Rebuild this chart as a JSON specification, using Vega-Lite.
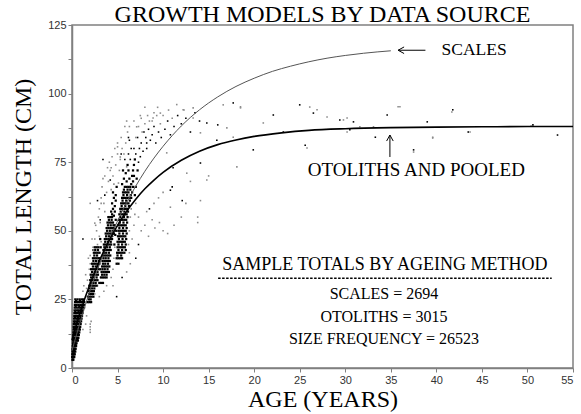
{
"$schema":"https://vega.github.io/schema/vega-lite/v6.json",
"width":501,"height":343,"autosize":"none",
"padding":{"left":72,"top":25,"right":8,"bottom":46},
"background":"white",
"config":{"view":{"stroke":"#808080","strokeWidth":1.5},
"axis":{"grid":false,"domainColor":"#808080","domainWidth":1.5,"tickColor":"#808080","tickSize":4,"labelFont":"Liberation Sans","labelFontSize":11,"labelColor":"#333333","titleFont":"Liberation Serif","titleFontSize":24,"titleFontWeight":"normal","titleColor":"black"}},
"title":{"text":"GROWTH MODELS BY DATA SOURCE","font":"Liberation Serif","fontSize":24,"fontWeight":"normal","color":"black","offset":2,"dy":10,"anchor":"middle","frame":"group"},
"datasets":{
"band":[
{"a":0.05,"l":3},{"a":0.1,"l":3},{"a":0.15,"l":3},
{"a":0.02,"l":4},{"a":0.08,"l":4},{"a":0.14,"l":4},{"a":0.2,"l":4},{"a":0.25,"l":4},
{"a":0.03,"l":5},{"a":0.1,"l":5},{"a":0.17,"l":5},{"a":0.24,"l":5},{"a":0.3,"l":5},
{"a":0.05,"l":6},{"a":0.12,"l":6},{"a":0.2,"l":6},{"a":0.28,"l":6},{"a":0.36,"l":6},
{"a":0.09,"l":6.5},{"a":0.24,"l":6.5},
{"a":0.06,"l":7},{"a":0.14,"l":7},{"a":0.22,"l":7},{"a":0.3,"l":7},{"a":0.4,"l":7},
{"a":0.08,"l":8},{"a":0.16,"l":8},{"a":0.25,"l":8},{"a":0.34,"l":8},{"a":0.45,"l":8},
{"a":0.12,"l":8.5},{"a":0.3,"l":8.5},{"a":0.4,"l":8.5},
{"a":0.1,"l":9},{"a":0.19,"l":9},{"a":0.28,"l":9},{"a":0.38,"l":9},{"a":0.5,"l":9},
{"a":0.1,"l":10},{"a":0.2,"l":10},{"a":0.3,"l":10},{"a":0.42,"l":10},{"a":0.55,"l":10},{"a":0.65,"l":10},
{"a":0.15,"l":10.5},{"a":0.36,"l":10.5},{"a":0.6,"l":10.5},
{"a":0.12,"l":11},{"a":0.22,"l":11},{"a":0.33,"l":11},{"a":0.45,"l":11},{"a":0.58,"l":11},{"a":0.7,"l":11},
{"a":0.14,"l":12},{"a":0.25,"l":12},{"a":0.37,"l":12},{"a":0.5,"l":12},{"a":0.62,"l":12},{"a":0.75,"l":12},
{"a":0.2,"l":12.5},{"a":0.44,"l":12.5},{"a":0.68,"l":12.5},
{"a":0.15,"l":13},{"a":0.27,"l":13},{"a":0.4,"l":13},{"a":0.53,"l":13},{"a":0.67,"l":13},{"a":0.8,"l":13},
{"a":0.17,"l":14},{"a":0.3,"l":14},{"a":0.43,"l":14},{"a":0.57,"l":14},{"a":0.71,"l":14},{"a":0.86,"l":14},
{"a":0.24,"l":14.5},{"a":0.5,"l":14.5},{"a":0.8,"l":14.5},
{"a":0.18,"l":15},{"a":0.32,"l":15},{"a":0.46,"l":15},{"a":0.6,"l":15},{"a":0.75,"l":15},{"a":0.9,"l":15},
{"a":0.2,"l":16},{"a":0.35,"l":16},{"a":0.5,"l":16},{"a":0.65,"l":16},{"a":0.8,"l":16},{"a":0.95,"l":16},
{"a":0.28,"l":16.5},{"a":0.58,"l":16.5},{"a":0.88,"l":16.5},
{"a":0.22,"l":17},{"a":0.37,"l":17},{"a":0.53,"l":17},{"a":0.69,"l":17},{"a":0.85,"l":17},{"a":1.0,"l":17},
{"a":0.23,"l":18},{"a":0.4,"l":18},{"a":0.56,"l":18},{"a":0.73,"l":18},{"a":0.9,"l":18},{"a":1.05,"l":18},
{"a":0.32,"l":18.5},{"a":0.64,"l":18.5},{"a":0.98,"l":18.5},
{"a":0.25,"l":19},{"a":0.42,"l":19},{"a":0.6,"l":19},{"a":0.77,"l":19},{"a":0.95,"l":19},{"a":1.1,"l":19},
{"a":0.26,"l":20},{"a":0.45,"l":20},{"a":0.63,"l":20},{"a":0.81,"l":20},{"a":1.0,"l":20},{"a":1.15,"l":20},
{"a":0.36,"l":20.5},{"a":0.72,"l":20.5},{"a":1.08,"l":20.5},
{"a":0.28,"l":21},{"a":0.47,"l":21},{"a":0.66,"l":21},{"a":0.85,"l":21},{"a":1.04,"l":21},{"a":1.2,"l":21},
{"a":0.3,"l":22},{"a":0.5,"l":22},{"a":0.7,"l":22},{"a":0.9,"l":22},{"a":1.08,"l":22},{"a":1.25,"l":22},
{"a":0.4,"l":22.5},{"a":0.8,"l":22.5},{"a":1.16,"l":22.5},
{"a":0.32,"l":23},{"a":0.52,"l":23},{"a":0.73,"l":23},{"a":0.94,"l":23},{"a":1.12,"l":23},{"a":1.3,"l":23},
{"a":0.34,"l":24},{"a":0.55,"l":24},{"a":0.76,"l":24},{"a":0.98,"l":24},{"a":1.17,"l":24},{"a":1.35,"l":24},
{"a":0.45,"l":24.5},{"a":0.88,"l":24.5},{"a":1.25,"l":24.5},
{"a":0.36,"l":25},{"a":0.6,"l":25},{"a":0.85,"l":25},{"a":1.1,"l":25},{"a":1.3,"l":25},
{"a":1.7,"l":24},{"a":1.9,"l":24},{"a":2.1,"l":24},
{"a":1.85,"l":25},{"a":2.05,"l":25},
{"a":1.75,"l":26},{"a":1.95,"l":26},{"a":2.15,"l":26},{"a":2.35,"l":26},
{"a":1.9,"l":27},{"a":2.1,"l":27},{"a":2.3,"l":27},
{"a":1.8,"l":28},{"a":2.0,"l":28},{"a":2.2,"l":28},{"a":2.4,"l":28},
{"a":1.95,"l":29},{"a":2.2,"l":29},{"a":2.45,"l":29},
{"a":1.9,"l":30},{"a":2.1,"l":30},{"a":2.3,"l":30},{"a":2.5,"l":30},{"a":2.7,"l":30},
{"a":2.05,"l":31},{"a":2.35,"l":31},{"a":2.6,"l":31},
{"a":2.0,"l":32},{"a":2.2,"l":32},{"a":2.4,"l":32},{"a":2.6,"l":32},{"a":2.8,"l":32},
{"a":2.1,"l":33},{"a":2.4,"l":33},{"a":2.7,"l":33},
{"a":2.05,"l":34},{"a":2.25,"l":34},{"a":2.45,"l":34},{"a":2.65,"l":34},{"a":2.85,"l":34},
{"a":2.2,"l":35},{"a":2.5,"l":35},{"a":2.8,"l":35},
{"a":2.1,"l":36},{"a":2.3,"l":36},{"a":2.5,"l":36},{"a":2.7,"l":36},{"a":2.9,"l":36},
{"a":2.3,"l":37},{"a":2.6,"l":37},{"a":2.85,"l":37},
{"a":2.2,"l":38},{"a":2.4,"l":38},{"a":2.6,"l":38},{"a":2.8,"l":38},{"a":3.0,"l":38},
{"a":2.35,"l":39},{"a":2.65,"l":39},{"a":2.95,"l":39},
{"a":2.3,"l":40},{"a":2.5,"l":40},{"a":2.7,"l":40},{"a":2.9,"l":40},
{"a":2.45,"l":41},{"a":2.75,"l":41},
{"a":2.4,"l":42},{"a":2.6,"l":42},{"a":2.8,"l":42},{"a":3.0,"l":42},
{"a":2.55,"l":43},{"a":2.85,"l":43},
{"a":2.5,"l":44},{"a":2.7,"l":44},{"a":2.9,"l":44},
{"a":3.2,"l":31},{"a":3.4,"l":31},
{"a":3.2,"l":33},{"a":3.4,"l":33},{"a":3.6,"l":33},{"a":3.8,"l":33},
{"a":3.3,"l":34},{"a":3.55,"l":34},{"a":3.8,"l":34},
{"a":3.25,"l":35},{"a":3.45,"l":35},{"a":3.65,"l":35},{"a":3.85,"l":35},{"a":4.05,"l":35},
{"a":3.35,"l":36},{"a":3.6,"l":36},{"a":3.9,"l":36},
{"a":3.3,"l":37},{"a":3.5,"l":37},{"a":3.7,"l":37},{"a":3.9,"l":37},{"a":4.1,"l":37},
{"a":3.4,"l":38},{"a":3.65,"l":38},{"a":3.95,"l":38},
{"a":3.35,"l":39},{"a":3.55,"l":39},{"a":3.75,"l":39},{"a":3.95,"l":39},{"a":4.15,"l":39},
{"a":3.45,"l":40},{"a":3.7,"l":40},{"a":4.0,"l":40},
{"a":3.4,"l":41},{"a":3.6,"l":41},{"a":3.8,"l":41},{"a":4.0,"l":41},{"a":4.2,"l":41},
{"a":3.5,"l":42},{"a":3.75,"l":42},{"a":4.05,"l":42},
{"a":3.45,"l":43},{"a":3.65,"l":43},{"a":3.85,"l":43},{"a":4.05,"l":43},{"a":4.25,"l":43},
{"a":3.55,"l":44},{"a":3.85,"l":44},{"a":4.15,"l":44},
{"a":3.5,"l":45},{"a":3.7,"l":45},{"a":3.9,"l":45},{"a":4.1,"l":45},{"a":4.3,"l":45},
{"a":3.65,"l":46},{"a":3.95,"l":46},{"a":4.25,"l":46},
{"a":3.6,"l":47},{"a":3.8,"l":47},{"a":4.0,"l":47},{"a":4.2,"l":47},{"a":4.4,"l":47},
{"a":3.75,"l":48},{"a":4.05,"l":48},{"a":4.35,"l":48},
{"a":3.7,"l":49},{"a":3.9,"l":49},{"a":4.1,"l":49},{"a":4.3,"l":49},{"a":4.5,"l":49},
{"a":3.85,"l":50},{"a":4.15,"l":50},{"a":4.45,"l":50},
{"a":3.8,"l":51},{"a":4.0,"l":51},{"a":4.2,"l":51},{"a":4.4,"l":51},{"a":4.6,"l":51},
{"a":3.95,"l":52},{"a":4.25,"l":52},{"a":4.55,"l":52},
{"a":3.9,"l":53},{"a":4.1,"l":53},{"a":4.3,"l":53},{"a":4.5,"l":53},
{"a":4.05,"l":54},{"a":4.35,"l":54},
{"a":4.0,"l":55},{"a":4.2,"l":55},{"a":4.4,"l":55},
{"a":4.9,"l":38},{"a":5.1,"l":38},
{"a":4.9,"l":40},{"a":5.1,"l":40},{"a":5.3,"l":40},{"a":5.5,"l":40},
{"a":5.0,"l":41},{"a":5.4,"l":41},
{"a":4.95,"l":42},{"a":5.15,"l":42},{"a":5.35,"l":42},{"a":5.55,"l":42},{"a":5.75,"l":42},
{"a":5.1,"l":43},{"a":5.5,"l":43},{"a":5.9,"l":43},
{"a":5.0,"l":44},{"a":5.2,"l":44},{"a":5.4,"l":44},{"a":5.6,"l":44},{"a":5.8,"l":44},
{"a":5.1,"l":45},{"a":5.5,"l":45},{"a":5.9,"l":45},
{"a":5.0,"l":46},{"a":5.2,"l":46},{"a":5.4,"l":46},{"a":5.6,"l":46},{"a":5.8,"l":46},
{"a":5.15,"l":47},{"a":5.55,"l":47},{"a":5.95,"l":47},
{"a":5.05,"l":48},{"a":5.25,"l":48},{"a":5.45,"l":48},{"a":5.65,"l":48},{"a":5.85,"l":48},
{"a":5.2,"l":49},{"a":5.6,"l":49},{"a":6.0,"l":49},
{"a":5.1,"l":50},{"a":5.3,"l":50},{"a":5.5,"l":50},{"a":5.7,"l":50},{"a":5.9,"l":50},
{"a":5.2,"l":51},{"a":5.6,"l":51},{"a":6.0,"l":51},
{"a":5.1,"l":52},{"a":5.3,"l":52},{"a":5.5,"l":52},{"a":5.7,"l":52},{"a":5.9,"l":52},
{"a":5.25,"l":53},{"a":5.65,"l":53},{"a":6.05,"l":53},
{"a":5.15,"l":54},{"a":5.35,"l":54},{"a":5.55,"l":54},{"a":5.75,"l":54},{"a":5.95,"l":54},
{"a":5.3,"l":55},{"a":5.7,"l":55},{"a":6.1,"l":55},
{"a":5.2,"l":56},{"a":5.4,"l":56},{"a":5.6,"l":56},{"a":5.8,"l":56},{"a":6.0,"l":56},
{"a":5.35,"l":57},{"a":5.75,"l":57},{"a":6.15,"l":57},
{"a":5.3,"l":58},{"a":5.5,"l":58},{"a":5.7,"l":58},{"a":5.9,"l":58},{"a":6.1,"l":58},
{"a":5.45,"l":59},{"a":5.85,"l":59},{"a":6.25,"l":59},
{"a":5.4,"l":60},{"a":5.6,"l":60},{"a":5.8,"l":60},{"a":6.0,"l":60},{"a":6.2,"l":60},
{"a":5.55,"l":61},{"a":5.95,"l":61},{"a":6.35,"l":61},
{"a":5.5,"l":62},{"a":5.7,"l":62},{"a":5.9,"l":62},{"a":6.1,"l":62},{"a":6.3,"l":62},
{"a":5.65,"l":63},{"a":6.05,"l":63},{"a":6.45,"l":63},
{"a":5.6,"l":64},{"a":5.8,"l":64},{"a":6.0,"l":64},{"a":6.2,"l":64},
{"a":5.7,"l":65},{"a":6.1,"l":65},
{"a":5.8,"l":66},{"a":6.0,"l":66},{"a":6.2,"l":66},{"a":6.4,"l":66},
{"a":4.4,"l":56},{"a":4.5,"l":58},{"a":4.4,"l":60},{"a":4.6,"l":62},{"a":4.5,"l":64},{"a":4.7,"l":59},{"a":4.8,"l":61},{"a":4.8,"l":63},{"a":4.9,"l":66},{"a":4.3,"l":57},{"a":4.6,"l":55.5},{"a":4.7,"l":57},
{"a":4.65,"l":45},{"a":4.75,"l":48.5},{"a":4.7,"l":52},{"a":4.8,"l":54},{"a":4.85,"l":50},{"a":4.6,"l":49},{"a":3.1,"l":36},{"a":3.05,"l":40},{"a":3.15,"l":44},{"a":3.1,"l":47},{"a":3.0,"l":31},
{"a":6.5,"l":62},{"a":6.6,"l":64},{"a":6.7,"l":66},{"a":6.7,"l":68},{"a":6.8,"l":70},{"a":6.7,"l":72},{"a":6.8,"l":74},{"a":6.9,"l":76},{"a":6.6,"l":70},{"a":6.5,"l":67},{"a":6.9,"l":63},{"a":7.0,"l":66},{"a":7.1,"l":69},{"a":7.2,"l":72},{"a":6.4,"l":65},{"a":6.3,"l":69},{"a":6.2,"l":72},{"a":6.0,"l":68},{"a":6.1,"l":74},{"a":5.9,"l":71},{"a":5.7,"l":69},{"a":5.5,"l":67},{"a":5.6,"l":72}
],
"spr":[
{"a":7.0,"l":78},{"a":6.8,"l":80},{"a":7.3,"l":75},{"a":6.4,"l":76},{"a":6.2,"l":78},{"a":5.8,"l":76},{"a":6.5,"l":80},{"a":6.3,"l":83},{"a":7.4,"l":80},{"a":7.5,"l":77},{"a":7.6,"l":82},{"a":7.8,"l":79},{"a":7.2,"l":84},{"a":7.9,"l":86},{"a":8.1,"l":84},{"a":8.2,"l":80},{"a":8.4,"l":87},{"a":8.6,"l":83},{"a":8.8,"l":85},{"a":9.0,"l":88},{"a":9.2,"l":82},{"a":9.5,"l":86},{"a":9.8,"l":84},{"a":10.2,"l":87},{"a":10.5,"l":90},{"a":10.8,"l":85},{"a":11.2,"l":88},{"a":11.6,"l":92},{"a":12.0,"l":89},{"a":12.5,"l":91},{"a":13.0,"l":86},{"a":13.5,"l":93},{"a":14.0,"l":90},
{"a":4.9,"l":26},{"a":7.0,"l":40},{"a":7.3,"l":45},{"a":8.5,"l":58},{"a":11.0,"l":66},{"a":5.5,"l":33},{"a":1.2,"l":47},{"a":2.3,"l":43},{"a":3.6,"l":63},{"a":4.0,"l":55},{"a":5.4,"l":78},{"a":2.8,"l":61},{"a":4.2,"l":68.5},{"a":6.2,"l":84},{"a":3.4,"l":76},{"a":8.2,"l":82},{"a":11.1,"l":73},{"a":3.1,"l":54},
{"a":17.7,"l":96.6},{"a":22.1,"l":92.2},{"a":16.0,"l":88.6},{"a":19.9,"l":79.5},{"a":14.1,"l":74.7},{"a":10.8,"l":64.8},{"a":12.1,"l":61},{"a":25.0,"l":95.9},{"a":26.5,"l":92.9},{"a":29.4,"l":90.4},{"a":30.9,"l":89.7},{"a":34.6,"l":92.2},{"a":39.0,"l":89.7},{"a":43.5,"l":86.0},{"a":50.6,"l":88.6},{"a":53.3,"l":84.9},{"a":37.5,"l":79.5},{"a":23.2,"l":86},{"a":14.8,"l":89.3},{"a":15.9,"l":83},{"a":30.5,"l":86.8},{"a":33.3,"l":84.1},{"a":41.8,"l":94.1},{"a":25.6,"l":81.2}
],
"gry":[
{"a":3.0,"l":58},{"a":3.2,"l":62},{"a":3.5,"l":60},{"a":3.3,"l":66},{"a":3.8,"l":64},{"a":3.6,"l":70},{"a":4.0,"l":68},{"a":4.2,"l":72},{"a":4.1,"l":75},{"a":4.5,"l":70},{"a":4.4,"l":77},{"a":4.8,"l":74},{"a":5.0,"l":78},{"a":5.2,"l":72},{"a":5.3,"l":76},{"a":5.5,"l":80},{"a":5.4,"l":84},{"a":5.0,"l":82},{"a":5.7,"l":78},{"a":5.9,"l":82},{"a":6.1,"l":86},{"a":6.3,"l":88},{"a":4.7,"l":80},{"a":3.9,"l":73},{"a":3.4,"l":69},{"a":2.9,"l":55},{"a":2.7,"l":50},{"a":3.1,"l":53},{"a":2.5,"l":47},{"a":2.8,"l":45},{"a":2.3,"l":44},{"a":2.0,"l":41},{"a":2.6,"l":52},{"a":3.6,"l":57},{"a":4.3,"l":65},{"a":4.6,"l":67},{"a":7.0,"l":84},{"a":7.3,"l":88},{"a":6.8,"l":90},{"a":7.7,"l":86},{"a":8.0,"l":89},{"a":8.3,"l":92},{"a":8.8,"l":90},{"a":9.3,"l":92},{"a":9.7,"l":89},{"a":6.0,"l":90},{"a":7.5,"l":92},{"a":5.8,"l":88},
{"a":1.5,"l":26},{"a":1.6,"l":29},{"a":1.7,"l":32},{"a":1.5,"l":34},{"a":1.9,"l":36},{"a":2.0,"l":38},{"a":1.8,"l":40},{"a":2.2,"l":47},{"a":3.1,"l":33},{"a":3.0,"l":38},{"a":3.1,"l":42},{"a":3.2,"l":46},{"a":3.0,"l":48},{"a":4.6,"l":40},{"a":4.7,"l":44},{"a":4.5,"l":48},{"a":4.6,"l":52},{"a":4.5,"l":36},{"a":6.3,"l":50},{"a":6.4,"l":55},{"a":6.5,"l":58},{"a":6.2,"l":45},{"a":6.3,"l":42},{"a":6.6,"l":47},{"a":6.8,"l":52},{"a":6.9,"l":56},{"a":7.0,"l":60},{"a":6.4,"l":38},{"a":2.5,"l":27},{"a":2.8,"l":30},{"a":3.0,"l":26},{"a":3.5,"l":28},{"a":3.8,"l":30},{"a":4.3,"l":33},{"a":1.3,"l":30},{"a":1.2,"l":28},{"a":1.4,"l":22},{"a":1.6,"l":19},{"a":1.5,"l":16},{"a":1.2,"l":14},
{"a":2.0,"l":14},{"a":2.0,"l":15},{"a":2.0,"l":16},{"a":2.0,"l":13},{"a":2.1,"l":17},
{"a":7.6,"l":50},{"a":8.0,"l":52},{"a":8.4,"l":48},{"a":8.8,"l":54},{"a":9.1,"l":51},{"a":9.6,"l":53},{"a":10.0,"l":50},{"a":10.5,"l":49},{"a":11.2,"l":52},{"a":12.0,"l":55},{"a":13.8,"l":55},{"a":13.8,"l":53},{"a":7.3,"l":55},{"a":8.2,"l":57},
{"a":4.5,"l":30},{"a":6.0,"l":35},{"a":9.0,"l":60},{"a":9.5,"l":62},{"a":10.0,"l":64},{"a":12.5,"l":60},{"a":13.0,"l":68},{"a":15.0,"l":70},{"a":3.2,"l":60},{"a":5.1,"l":67.4},{"a":4.3,"l":73},{"a":2.5,"l":52.8},{"a":5.3,"l":76.9},{"a":7.1,"l":87.9},{"a":8.9,"l":91.1},{"a":9.7,"l":92.9},{"a":12.2,"l":94.1},{"a":13.3,"l":94.8},{"a":5.0,"l":80.6},{"a":6.0,"l":73.3},{"a":10.4,"l":78.4},{"a":2.0,"l":60},
{"a":8.5,"l":90},{"a":9.0,"l":93},{"a":9.4,"l":95},{"a":10.0,"l":92},{"a":10.6,"l":94},{"a":11.0,"l":91},{"a":11.5,"l":96},{"a":12.3,"l":94},{"a":8.0,"l":95},{"a":7.6,"l":91},
{"a":18.5,"l":94.8},{"a":17.0,"l":87.5},{"a":18.1,"l":73.3},{"a":14.8,"l":68.5},{"a":12.6,"l":71},{"a":14.1,"l":61},{"a":10.8,"l":58.6},{"a":16.6,"l":95.9},{"a":18.5,"l":95.2},{"a":26.1,"l":95.1},{"a":28.0,"l":91.5},{"a":30.2,"l":91.1},{"a":33.1,"l":87.9},{"a":35.8,"l":95.2},{"a":41.7,"l":93.3},{"a":39.6,"l":83.8},{"a":25.8,"l":80.2},{"a":21.0,"l":89.3},{"a":14.1,"l":85.7},{"a":13.3,"l":91.1},{"a":17.7,"l":84.1},{"a":31.6,"l":87.9},{"a":26.9,"l":94.1},{"a":29.8,"l":90.4},{"a":36.0,"l":95.2},{"a":39.6,"l":84.1},{"a":37.5,"l":78.7},{"a":43.7,"l":86},{"a":50.4,"l":88.2},{"a":30.2,"l":86}
],
"sc":[
{"a":0,"l":6.3},{"a":1,"l":17.9},{"a":2,"l":28.4},{"a":3,"l":37.7},{"a":4,"l":46.1},{"a":5,"l":53.6},{"a":6,"l":60.3},{"a":7,"l":66.3},{"a":8,"l":71.7},{"a":9,"l":76.5},{"a":10,"l":80.8},{"a":12,"l":88.2},{"a":14,"l":94.1},{"a":16,"l":98.8},{"a":18,"l":102.6},{"a":20,"l":105.6},{"a":22,"l":108.1},{"a":24,"l":110.0},{"a":26,"l":111.6},{"a":28,"l":112.9},{"a":30,"l":113.9},{"a":32,"l":114.7},{"a":35,"l":115.6}
],
"ot":[
{"a":0,"l":10.2},{"a":1,"l":21.3},{"a":2,"l":30.8},{"a":3,"l":39.0},{"a":4,"l":46.0},{"a":5,"l":52.0},{"a":6,"l":57.1},{"a":7,"l":61.5},{"a":8,"l":65.3},{"a":9,"l":68.5},{"a":10,"l":71.3},{"a":12,"l":75.7},{"a":14,"l":79.0},{"a":16,"l":81.4},{"a":18,"l":83.1},{"a":20,"l":84.4},{"a":23,"l":85.7},{"a":26,"l":86.6},{"a":30,"l":87.2},{"a":35,"l":87.6},{"a":40,"l":87.8},{"a":45,"l":87.9},{"a":50,"l":88.0},{"a":55,"l":88.0}
]
},
"encoding":{
"x":{"field":"a","type":"quantitative","scale":{"domain":[0,55],"nice":false},"axis":{"title":"AGE (YEARS)","values":[0,5,10,15,20,25,30,35,40,45,50,55],"titlePadding":2,"labelPadding":2}},
"y":{"field":"l","type":"quantitative","scale":{"domain":[0,125],"nice":false},"axis":{"title":"TOTAL LENGTH (CM)","values":[0,12.5,25,37.5,50,62.5,75,87.5,100,112.5,125],"labelExpr":"datum.value % 25 === 0 ? datum.label : ''","titlePadding":12,"labelPadding":2}}
},
"layer":[
{"data":{"name":"gry"},"mark":{"type":"point","shape":"square","filled":true,"size":2.5,"color":"#8c8c8c","opacity":1,"strokeWidth":0}},
{"data":{"name":"spr"},"mark":{"type":"point","shape":"square","filled":true,"size":2.5,"color":"black","opacity":1,"strokeWidth":0}},
{"data":{"name":"band"},"mark":{"type":"point","shape":"square","filled":true,"size":5,"color":"black","opacity":1,"strokeWidth":0}},
{"data":{"name":"sc"},"mark":{"type":"line","color":"#555555","strokeWidth":1,"interpolate":"monotone"}},
{"data":{"name":"ot"},"mark":{"type":"line","color":"black","strokeWidth":1.6,"interpolate":"monotone"}},
{"data":{"values":[{"a":40.57,"l":115.8,"t":"SCALES"}]},"mark":{"type":"text","font":"Liberation Serif","fontSize":17.5,"align":"left","baseline":"middle","color":"black"},"encoding":{"text":{"field":"t"}}},
{"data":{"values":[{"a":35.8,"a2":38.8,"l":115.8}]},"mark":{"type":"rule","color":"black","strokeWidth":1},"encoding":{"x2":{"field":"a2"}}},
{"data":{"values":[{"a":35.8,"l":115.8}]},"mark":{"type":"point","shape":"M 0 0 L 1 -0.55 M 0 0 L 1 0.55","filled":false,"size":144,"color":"black","strokeWidth":1,"opacity":1}},
{"data":{"values":[{"a":34.9,"l":76.9,"l2":84.9}]},"mark":{"type":"rule","color":"black","strokeWidth":1},"encoding":{"y2":{"field":"l2"}}},
{"data":{"values":[{"a":34.9,"l":84.9}]},"mark":{"type":"point","shape":"M 0 0 L -0.55 1 M 0 0 L 0.55 1","filled":false,"size":144,"color":"black","strokeWidth":1,"opacity":1}},
{"data":{"values":[{"a":37.8,"l":72.2,"t":"OTOLITHS AND POOLED"}]},"mark":{"type":"text","font":"Liberation Serif","fontSize":19,"align":"center","baseline":"middle","color":"black"},"encoding":{"text":{"field":"t"}}},
{"data":{"values":[{"a":34.35,"l":37.5,"t":"SAMPLE TOTALS BY AGEING METHOD"}]},"mark":{"type":"text","font":"Liberation Serif","fontSize":18,"align":"center","baseline":"middle","color":"black"},"encoding":{"text":{"field":"t"}}},
{"data":{"values":[{"a":34.25,"l":26.9,"t":"SCALES = 2694"},{"a":34.25,"l":18.7,"t":"OTOLITHS = 3015"},{"a":34.25,"l":10.7,"t":"SIZE FREQUENCY = 26523"}]},"mark":{"type":"text","font":"Liberation Serif","fontSize":16,"align":"center","baseline":"middle","color":"black"},"encoding":{"text":{"field":"t"}}},
{"data":{"values":[{"a":16.04,"a2":52.66,"l":32.7}]},"mark":{"type":"rule","color":"black","strokeWidth":1.3,"strokeDash":[2.5,1.5]},"encoding":{"x2":{"field":"a2"}}}
]
}
